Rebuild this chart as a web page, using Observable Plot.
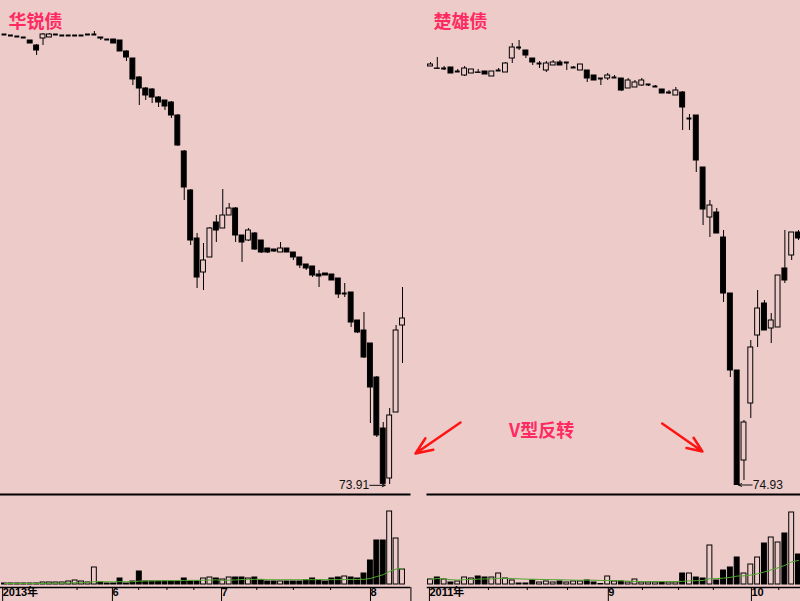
<!DOCTYPE html>
<html><head><meta charset="utf-8">
<script src="https://cdn.jsdelivr.net/npm/d3@7"></script>
<script src="https://cdn.jsdelivr.net/npm/@observablehq/plot@0.6"></script>
<style>
html,body{margin:0;padding:0;background:#eccbc9;}
#wrap{position:relative;width:800px;height:601px;overflow:hidden;background:#eccbc9;}
.panel{position:absolute;}
.panel svg{overflow:visible;display:block;}
</style></head><body><div id="wrap">
<div class="panel" id="lp" style="left:0;top:0"></div>
<div class="panel" id="lv" style="left:0;top:495px"></div>
<div class="panel" id="rv" style="left:427px;top:495px"></div>
<div class="panel" id="rp" style="left:427px;top:0"></div>
</div>
<script>
const BG = "#eccbc9";
const TITLE_RED = "#ff2a62";
const ARROW_RED = "#ff1414";

// ---- 华锐债 (left) ----
const leftTitle = "华锐债";
const leftOpen  = [100.96,100.90,100.84,100.78,100.60,100.30,100.72,100.78,100.96,100.90,100.90,100.90,100.90,100.96,100.96,100.78,100.66,100.66,100.60,99.94,99.52,98.38,97.72,97.66,97.18,97.00,96.88,96.10,93.94,91.60,88.72,86.68,87.58,89.68,89.32,90.10,90.52,88.90,88.60,89.02,88.60,88.12,88.06,87.88,88.12,87.88,87.58,87.16,87.04,86.56,86.62,86.56,86.32,85.42,85.48,83.80,83.20,82.42,80.38,77.32,74.32,78.28,83.50];
const leftClose = [100.96,100.90,100.84,100.78,100.42,100.00,100.96,100.96,100.96,100.90,100.90,100.90,100.90,100.96,100.96,100.72,100.66,100.42,99.94,99.58,98.26,97.72,97.30,97.18,96.88,96.64,96.10,94.30,91.78,88.60,86.38,87.40,89.32,89.20,90.10,90.52,88.90,88.48,89.20,88.06,87.88,87.88,87.94,88.12,87.88,87.58,87.10,86.92,86.50,86.44,86.50,86.20,85.36,85.42,83.68,83.08,81.58,79.78,76.90,74.00,78.10,83.20,83.92];
const leftHigh  = [100.96,100.90,100.84,100.78,100.60,100.36,101.02,101.02,100.96,100.90,100.90,100.90,100.90,100.96,101.14,100.78,100.66,100.66,100.60,100.00,99.52,98.44,97.78,97.72,97.24,97.00,96.94,96.16,94.00,91.66,89.02,88.42,89.38,90.10,91.66,90.82,90.58,88.90,89.32,89.08,88.60,88.12,88.06,88.48,88.12,87.88,87.58,87.16,87.04,86.80,86.62,86.56,86.32,86.02,85.48,83.80,84.28,82.42,80.44,77.68,78.52,83.50,85.78];
const leftLow   = [100.96,100.90,100.84,100.78,100.42,99.70,100.30,100.78,100.96,100.90,100.90,100.90,100.90,100.96,100.90,100.60,100.66,100.42,99.94,99.34,97.90,96.70,97.00,96.82,96.58,96.40,95.92,94.24,91.00,88.30,85.72,85.60,87.58,88.48,89.32,90.10,88.48,87.28,88.54,88.00,87.82,87.82,87.88,87.88,87.88,87.40,86.92,86.80,86.38,85.78,86.50,86.20,85.12,85.18,83.38,83.02,81.52,77.62,76.78,73.91,73.96,78.28,81.22];
const leftVol   = [1,1,1,1,1,1,2,2,2,2,3,4,3,2,17,2,1,1,6,1,3,13,3,3,3,3,3,3,6,3,3,6,7,6,5,7,7,7,6,7,4,3,3,3,3,3,3,4,6,4,3,6,7,8,7,6,11,24,44,44,73,46,15];
const leftMonthTicks  = [-0.6, 16.5, 33.5, 56.7, 63.0];
const leftMonthLabels = ["2013年", "6", "7", "8", ""];
const leftMinorTicks  = [11.3, 20.9, 25.3, 29.5, 39.3, 45.0, 50.8];
const leftLowLabel = "73.91";
const leftLowIndex = 59;
const leftLowValue = 73.91;

// ---- 楚雄债 (right) ----
const rightTitle = "楚雄债";
const rightOpen  = [100.04,99.92,99.92,99.98,99.74,99.50,99.62,99.68,99.74,99.44,99.80,99.68,100.52,101.18,101.00,100.52,100.22,99.80,100.10,100.28,100.28,99.98,99.80,99.80,99.50,99.32,99.32,99.38,99.32,98.72,98.78,98.90,98.96,98.84,98.66,98.48,98.30,98.48,96.92,97.10,93.98,90.98,91.28,89.78,86.42,81.80,76.40,79.82,83.90,85.82,84.32,84.38,87.92,88.70,90.08];
const rightClose = [100.16,99.90,99.92,99.62,99.74,99.92,99.86,99.66,99.56,99.74,99.80,100.22,101.18,101.18,100.70,100.28,100.22,100.22,100.28,100.10,100.28,99.98,100.16,99.32,99.20,99.32,99.50,99.38,98.60,99.20,99.08,99.20,98.96,98.84,98.42,98.48,98.60,97.58,96.92,94.40,91.46,91.70,90.02,86.42,81.80,74.93,78.68,83.18,85.52,84.20,84.80,87.50,87.20,90.08,89.72];
const rightHigh  = [100.28,100.58,100.04,99.98,99.86,100.04,99.86,99.86,99.74,99.74,99.92,100.28,101.42,101.60,101.00,100.52,100.34,100.34,100.40,100.40,100.28,100.04,100.16,99.80,99.50,99.32,99.62,99.50,99.32,99.32,99.20,99.32,98.96,98.90,98.66,98.60,98.78,98.54,97.16,97.10,93.98,92.00,91.52,90.20,86.42,81.80,78.80,83.60,86.60,86.00,85.22,87.50,90.20,90.08,90.20];
const rightLow   = [100.04,99.90,99.80,99.62,99.68,99.44,99.62,99.66,99.56,99.44,99.74,99.68,100.22,101.00,100.52,100.10,99.92,99.68,100.10,100.10,99.80,99.92,99.80,99.08,99.20,98.90,99.20,99.32,98.54,98.72,98.78,98.84,98.84,98.78,98.42,98.36,98.30,96.20,96.20,93.68,90.50,89.78,90.02,85.88,81.38,74.93,75.20,78.92,83.18,84.20,83.42,84.38,87.02,88.40,89.60];
const rightVol   = [5,7,5,2,3,7,6,8,7,7,11,6,4,1,1,4,2,3,2,3,2,3,3,4,2,0.5,8,3,3,2,5,2,2,2,2,2,2,11,11,7,6,39,4,14,17,27,11,20,27,41,47,42,51,72,30];
const rightMonthTicks  = [-0.45, 25.8, 46.8];
const rightMonthLabels = ["2011年", "9", "10"];
const rightMinorTicks  = [8.5, 14.2, 20.1, 31.1, 36.4, 41.5, 51.1];
const rightLowLabel = "74.93";
const rightLowIndex = 45;
const rightLowValue = 74.93;

// annotation (in right-panel index / price units)
const noteText = "V型反转";
const noteIndex = 16.3, notePrice = 78.14;
const noteArrowsX1 = [4.4, 34.0];
const noteArrowsY1 = [78.68, 78.62];
const noteArrowsX2 = [-2.2, 39.9];
const noteArrowsY2 = [76.82, 76.94];

const FONT = "'Liberation Sans', Arial, 'Noto Sans CJK SC', sans-serif";
const CJK = "'Noto Sans CJK SC', sans-serif";

function rows(o, c, h, l, v) {
  return o.map((d, i) => ({i, open: d, close: c[i], high: h[i], low: l[i], vol: v[i]}));
}
const leftData = rows(leftOpen, leftClose, leftHigh, leftLow, leftVol);
const rightData = rows(rightOpen, rightClose, rightHigh, rightLow, rightVol);

function candleMarks(data, hw) {
  return [
    Plot.ruleX(data, {x: "i", y1: "low", y2: "high", stroke: "black", strokeWidth: 1}),
    Plot.rect(data.filter(d => d.open !== d.close), {
      x1: d => d.i - hw, x2: d => d.i + hw, y1: "open", y2: "close",
      fill: d => d.close > d.open ? BG : "black", stroke: "black", strokeWidth: 1
    }),
    Plot.ruleY(data.filter(d => d.open === d.close), {
      y: "close", x1: d => d.i - hw, x2: d => d.i + hw, stroke: "black", strokeWidth: 2
    })
  ];
}

function pricePlot(o) {
  return Plot.plot({
    width: o.width, height: 496,
    marginTop: 0, marginLeft: 0, marginRight: 0, marginBottom: 2,
    style: {background: "transparent", overflow: "visible", fontFamily: FONT},
    x: {domain: o.xDomain, range: o.xRange, axis: null},
    y: {domain: o.yDomain, range: [500, 0], axis: null},
    marks: [
      Plot.frame({anchor: "bottom", strokeWidth: 2, stroke: "black"}),
      ...candleMarks(o.data, o.hw),
      Plot.text([o.title], {
        frameAnchor: "top-left", text: d => d, dx: o.titleDx, dy: 15,
        textAnchor: "start",
        fill: TITLE_RED, fontSize: 18, fontWeight: "bold", fontFamily: CJK
      }),
      ...o.extra
    ]
  });
}

function volumePlot(o) {
  const labelMap = new Map(o.ticks.map((t, k) => [t, o.labels[k]]));
  return Plot.plot({
    width: o.width, height: 106,
    marginTop: 0, marginLeft: 0, marginRight: 0, marginBottom: 14,
    style: {background: "transparent", overflow: "visible", fontFamily: FONT},
    x: {domain: o.xDomain, range: o.xRange},
    y: {domain: [0, 80], range: [89, 9], axis: null},
    marks: [
      Plot.rect(o.data, {
        x1: d => d.i - o.hw, x2: d => d.i + o.hw, y1: 0, y2: "vol",
        fill: d => d.close >= d.open ? BG : "black", stroke: "black", strokeWidth: 1
      }),
      Plot.lineY(o.data, Plot.windowY({k: 20, anchor: "end", strict: false},
        {x: "i", y: "vol", stroke: "#4ea62e", strokeWidth: 1})),
      Plot.frame({anchor: "bottom", strokeWidth: 1.5, stroke: "black"}),
      Plot.axisX({
        ticks: o.ticks, tickSize: 14, tickPadding: -13, label: null,
        tickFormat: d => labelMap.get(d), textAnchor: "start", dx: 2,
        fontSize: 11, fontWeight: "bold", stroke: "black", strokeWidth: 1
      }),
      Plot.axisX({ticks: o.minor, tickSize: 3, tickFormat: () => "", label: null, stroke: "black"})
    ]
  });
}

// Left
document.getElementById("lp").append(pricePlot({
  width: 409, data: leftData, hw: 0.38,
  xDomain: [0, 62], xRange: [4, 402], yDomain: [73, 103],
  title: leftTitle, titleDx: 8,
  extra: [
    Plot.arrow([leftLowValue], {
      x1: leftLowIndex - 2.1, x2: leftLowIndex + 0.3, y1: d => d, y2: d => d,
      stroke: "#111", strokeWidth: 1, headLength: 5, headAngle: 50
    }),
    Plot.text([leftLowLabel], {
      x: leftLowIndex - 2.2, y: leftLowValue, text: d => d, textAnchor: "end",
      fontSize: 12, fill: "#111", fontFamily: FONT
    })
  ]
}));
document.getElementById("lv").append(volumePlot({
  width: 409, data: leftData, hw: 0.38, xDomain: [0, 62], xRange: [4, 402],
  ticks: leftMonthTicks, labels: leftMonthLabels, minor: leftMinorTicks
}));

// Right
const noteArrows = noteArrowsX1.map((x1, k) => ({x1, y1: noteArrowsY1[k], x2: noteArrowsX2[k], y2: noteArrowsY2[k]}));
document.getElementById("rp").append(pricePlot({
  width: 373, data: rightData, hw: 0.36,
  xDomain: [0, 54], xRange: [3, 371], yDomain: [74, 104],
  title: rightTitle, titleDx: 6,
  extra: [
    Plot.arrow([rightLowValue], {
      x1: rightLowIndex + 2.2, x2: rightLowIndex + 0.2, y1: d => d, y2: d => d,
      stroke: "#111", strokeWidth: 1, headLength: 5, headAngle: 50
    }),
    Plot.text([rightLowLabel], {
      x: rightLowIndex + 2.3, y: rightLowValue, text: d => d, textAnchor: "start",
      fontSize: 12, fill: "#111", fontFamily: FONT
    }),
    Plot.arrow(noteArrows, {
      x1: "x1", y1: "y1", x2: "x2", y2: "y2",
      stroke: ARROW_RED, strokeWidth: 2.5, headLength: 13, headAngle: 45
    }),
    Plot.text([noteText], {
      x: noteIndex, y: notePrice, text: d => d, fill: TITLE_RED,
      fontSize: 18, fontWeight: "bold", fontFamily: CJK
    })
  ]
}));
document.getElementById("rv").append(volumePlot({
  width: 373, data: rightData, hw: 0.36, xDomain: [0, 54], xRange: [3, 371],
  ticks: rightMonthTicks, labels: rightMonthLabels, minor: rightMinorTicks
}));
</script>
</body></html>
